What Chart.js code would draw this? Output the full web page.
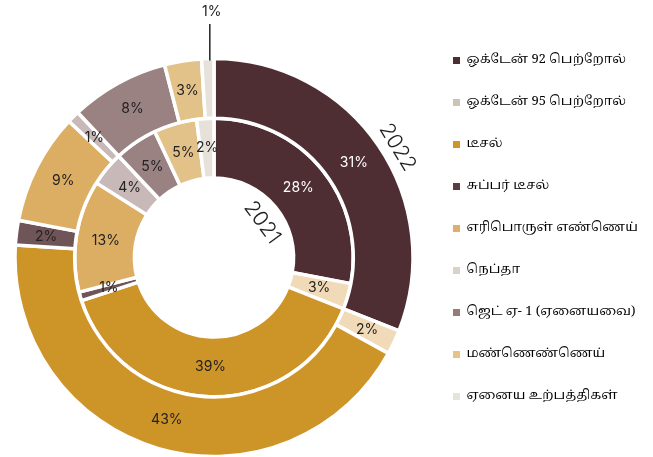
<!DOCTYPE html>
<html>
<head>
<meta charset="utf-8">
<script src="https://cdn.jsdelivr.net/npm/chart.js@4/dist/chart.umd.min.js"></script>
<style>
  html, body { margin: 0; padding: 0; background: #fff; }
  canvas { display: block; }
</style>
</head>
<body>
<canvas id="fuelChart" width="653" height="457"></canvas>
<script>
const products = [
	"ஒக்டேன் 92 பெற்றோல்",
	"ஒக்டேன் 95 பெற்றோல்",
	"டீசல்",
	"சுப்பர் டீசல்",
	"எரிபொருள் எண்ணெய்",
	"நெப்தா",
	"ஜெட் ஏ- 1 (ஏனையவை)",
	"மண்ணெண்ணெய்",
	"ஏனைய உற்பத்திகள்",
];
const share2021 = [28, 3, 39, 1, 13, 4, 5, 5, 2];
const share2022 = [31, 2, 43, 2, 9, 1, 8, 3, 1];
const yearLabels = ["2022", "2021"];

const sliceColors = ["#4e2e32", "#f1dab7", "#cd9428", "#705558", "#dcae64", "#c8b8b8", "#9a8282", "#e2c288", "#e6e1d9"];
const legendColors = ["#4e2e32", "#cbc3b5", "#d09428", "#5b3d41", "#e0b068", "#d8d2c8", "#957b7c", "#e6c487", "#e6e2dc"];

const labelFont = "400 14px Inter, 'Noto Sans', sans-serif";
const yearFont = "300 21px Inter, 'Noto Sans', sans-serif";

// fixed legend column so the rings sit where they should
const legendWidth = {
	id: "legendWidth",
	beforeInit(chart) {
		const fit = chart.legend.fit;
		chart.legend.fit = function () {
			fit.call(this);
			this.width = 229;
		};
	},
};

function drawAlongRing(ctx, text, cx, cy, r, deg) {
	const a = (deg * Math.PI) / 180;
	ctx.save();
	ctx.translate(cx + Math.sin(a) * r, cy - Math.cos(a) * r);
	ctx.rotate(a);
	ctx.fillText(text, 0, 0);
	ctx.restore();
}

const sliceLabels = {
	id: "sliceLabels",
	afterDatasetsDraw(chart) {
		const ctx = chart.ctx;
		ctx.save();
		ctx.textAlign = "center";
		ctx.textBaseline = "middle";
		ctx.font = labelFont;

		chart.data.datasets.forEach((ds, di) => {
			const meta = chart.getDatasetMeta(di);
			meta.data.forEach((arc, i) => {
				const text = ds.data[i] + "%";
				if (di === 0 && i === ds.data.length - 1) {
					// tiny outer slice gets its label above the ring
					const mid = (arc.startAngle + arc.endAngle) / 2;
					const x = arc.x + Math.cos(mid) * (arc.outerRadius - 2) + 2;
					const y = arc.y + Math.sin(mid) * (arc.outerRadius - 2);
					ctx.strokeStyle = "#222";
					ctx.lineWidth = 1.5;
					ctx.beginPath();
					ctx.moveTo(x, y);
					ctx.lineTo(x, 24);
					ctx.stroke();
					ctx.fillStyle = "#222";
					ctx.fillText(text, x + 2, 12);
					return;
				}
				const p = arc.tooltipPosition();
				ctx.fillStyle = i === 0 ? "#ffffff" : "#222222";
				ctx.fillText(text, p.x, p.y);
			});
		});

		const outer = chart.getDatasetMeta(0).data[0];
		const inner = chart.getDatasetMeta(1).data[0];
		ctx.font = yearFont;
		ctx.fillStyle = "#222";
		drawAlongRing(ctx, yearLabels[0], outer.x, outer.y, outer.outerRadius + 15, 59);
		drawAlongRing(ctx, yearLabels[1], inner.x, inner.y, inner.innerRadius - 20, 54);
		ctx.restore();
	},
};

const ctx = document.getElementById("fuelChart").getContext("2d");

new Chart(ctx, {
	type: "doughnut",
	data: {
		labels: products,
		datasets: [
			{
				label: yearLabels[0],
				data: share2022,
				backgroundColor: sliceColors,
				borderColor: "#ffffff",
				borderWidth: 3.5,
			},
			{
				label: yearLabels[1],
				data: share2021,
				backgroundColor: sliceColors,
				borderColor: "#ffffff",
				borderWidth: 3.5,
			},
		],
	},
	options: {
		responsive: false,
		animation: false,
		radius: 199,
		cutout: "40%",
		layout: {
			padding: { left: 4, right: 0, top: 0, bottom: 0 },
		},
		plugins: {
			title: {
				display: true,
				text: "",
				fullSize: false,
				font: { size: 10, lineHeight: 1 },
				padding: { top: 48, bottom: 0 },
			},
			legend: {
				position: "right",
				align: "center",
				labels: {
					boxWidth: 7,
					boxHeight: 7,
					padding: 29,
					color: "#333",
					font: {
						size: 13,
						family: "'Noto Serif Tamil', 'Noto Sans Tamil', 'Lohit Tamil', 'Noto Sans', serif",
					},
					generateLabels() {
						return products.map((name, i) => ({
							text: name,
							fillStyle: legendColors[i],
							strokeStyle: legendColors[i],
							lineWidth: 0,
							hidden: false,
							index: i,
						}));
					},
				},
			},
			tooltip: { enabled: false },
		},
	},
	plugins: [legendWidth, sliceLabels],
});
</script>
</body>
</html>
